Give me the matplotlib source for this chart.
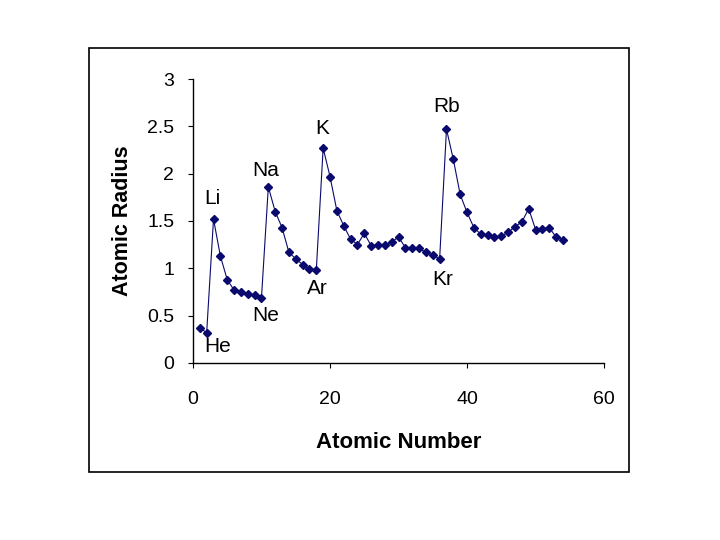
import matplotlib
matplotlib.use('Agg')
import matplotlib.pyplot as plt
from matplotlib.patches import Rectangle

plt.rcParams['font.family'] = ['Liberation Sans', 'DejaVu Sans']

# Atomic number vs. atomic radius
atomic_number = list(range(1, 55))
atomic_radius = [
    0.37, 0.32, 1.52, 1.13, 0.88, 0.77, 0.75, 0.73, 0.72, 0.69,
    1.86, 1.60, 1.43, 1.17, 1.10, 1.04, 0.99, 0.98, 2.27, 1.97,
    1.61, 1.45, 1.31, 1.25, 1.37, 1.24, 1.25, 1.25, 1.28, 1.33,
    1.22, 1.22, 1.21, 1.17, 1.14, 1.10, 2.47, 2.15, 1.78, 1.59,
    1.43, 1.36, 1.35, 1.33, 1.34, 1.38, 1.44, 1.49, 1.63, 1.41,
    1.42, 1.43, 1.33, 1.30,
]

# labelled elements and their atomic numbers
label_names = ['He', 'Li', 'Ne', 'Na', 'Ar', 'K', 'Kr', 'Rb']
label_z = [2, 3, 10, 11, 18, 19, 36, 37]

# offset of each label from its point, in points
label_offsets = {
    'He': (8, -10), 'Li': (-1, 15), 'Ne': (3, -13), 'Na': (-2, 12),
    'Ar': (1, -13), 'K': (-1, 14), 'Kr': (2, -15), 'Rb': (0, 16),
}

fig = plt.figure(figsize=(7.2, 5.4), dpi=100)
ax = fig.add_axes([0.268, 0.3278, 0.571, 0.5259])

# outer chart frame
fig.patches.append(Rectangle((0.124, 0.126), 0.75, 0.785, transform=fig.transFigure,
                             fill=False, edgecolor='black', linewidth=1.2))

color = '#0a0a6e'
ax.plot(atomic_number, atomic_radius, color=color, linewidth=0.8,
        marker='D', markersize=4.5, markerfacecolor=color, markeredgecolor=color)

for name, z in zip(label_names, label_z):
    r = atomic_radius[z - 1]
    ax.annotate(name, (z, r), xytext=label_offsets[name], textcoords='offset points',
                ha='center', va='center', fontsize=15)

ax.set_xlim(0, 60)
ax.set_ylim(0, 3)
ax.set_xticks([0, 20, 40, 60])
ax.set_yticks([0, 0.5, 1, 1.5, 2, 2.5, 3])
ax.set_yticklabels(['0', '0.5', '1', '1.5', '2', '2.5', '3'])

ax.spines['top'].set_visible(False)
ax.spines['right'].set_visible(False)
ax.spines['left'].set_linewidth(1)
ax.spines['bottom'].set_linewidth(1)
ax.tick_params(axis='y', direction='out', length=3.5, pad=10, labelsize=14)
ax.tick_params(axis='x', direction='out', length=3.5, pad=17, labelsize=14)

ax.set_xlabel('Atomic Number', fontsize=16, fontweight='bold', labelpad=17)
ax.set_ylabel('Atomic Radius', fontsize=15.5, fontweight='bold', labelpad=10)

fig.savefig('out.png', dpi=100)
plt.close(fig)
